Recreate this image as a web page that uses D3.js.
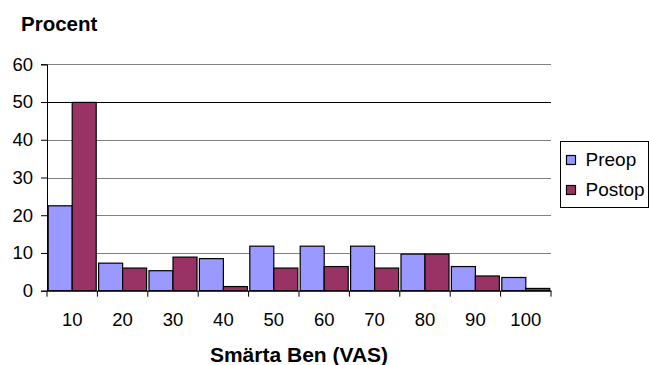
<!DOCTYPE html>
<html><head><meta charset="utf-8">
<script src="https://cdn.jsdelivr.net/npm/d3@7"></script>
<style>body{margin:0;background:#fff}svg{display:block}text{font-family:"Liberation Sans",Arial,sans-serif;fill:#000}</style>
</head><body>
<script>
const categories = ["10","20","30","40","50","60","70","80","90","100"];
const preop  = [22.5, 7.3, 5.3, 8.5, 11.8, 11.8, 11.8, 9.7, 6.4, 3.5];
const postop = [49.9, 6.0, 8.9, 1.1, 6.0, 6.4, 6.0, 9.7, 3.9, 0.6];
const seriesNames = ["Preop","Postop"];
const colors = ["#9999FF","#993366"];
const yTicks = [0,10,20,30,40,50,60];

const W=649,H=365;
const m={l:47,r:551,t:64.3,b:290.7};
const svg=d3.select("body").append("svg").attr("width",W).attr("height",H);

const x=d3.scaleBand().domain(categories).range([m.l,m.r]).paddingInner(0).paddingOuter(0);
const xs=d3.scaleBand().domain(seriesNames).range([0,x.bandwidth()]).paddingInner(0).paddingOuter(0.05);
const y=d3.scaleLinear().domain([0,60]).range([m.b,m.t]);

// gridlines
svg.append("g").selectAll("line").data(yTicks.filter(d=>d>0)).join("line")
  .attr("x1",m.l).attr("x2",m.r).attr("y1",d=>Math.round(y(d))+0.5).attr("y2",d=>Math.round(y(d))+0.5)
  .attr("stroke",d=>d===50?"#000":"#808080").attr("stroke-width",1);

// bars
const data=categories.map((c,i)=>({c,vals:[preop[i],postop[i]]}));
const g=svg.append("g").selectAll("g").data(data).join("g").attr("transform",d=>`translate(${x(d.c)},0)`);
g.selectAll("rect").data(d=>d.vals.map((v,j)=>({s:seriesNames[j],v,j}))).join("rect")
  .attr("x",d=>xs(d.s)).attr("width",xs.bandwidth())
  .attr("y",d=>y(d.v)).attr("height",d=>y(0)-y(d.v))
  .attr("fill",d=>colors[d.j]).attr("stroke","#000").attr("stroke-width",1.2);

// y axis
const ya=svg.append("g").attr("transform",`translate(${m.l},0)`)
  .call(d3.axisLeft(y).tickValues(yTicks).tickSize(6).tickPadding(8));
ya.select(".domain").attr("stroke","#000");
ya.selectAll(".tick line").attr("stroke","#000");
ya.selectAll("text").style("font-size","18.5px").attr("font-family","Liberation Sans, Arial, sans-serif");

// x axis
const xa=svg.append("g").attr("transform",`translate(0,${m.b})`)
  .call(d3.axisBottom(x).tickSize(0).tickPadding(22));
xa.select(".domain").attr("stroke","#000");
xa.selectAll("text").style("font-size","18.5px").attr("font-family","Liberation Sans, Arial, sans-serif");
// boundary ticks
const bounds=categories.map(c=>x(c)).concat([x(categories[categories.length-1])+x.bandwidth()]);
xa.append("g").selectAll("line").data(bounds).join("line")
  .attr("x1",d=>d).attr("x2",d=>d).attr("y1",0).attr("y2",6).attr("stroke","#000");

// titles
svg.append("text").attr("x",21).attr("y",30.5).attr("font-weight","bold").style("font-size","20.5px").text("Procent");
svg.append("text").attr("x",(m.l+m.r)/2).attr("y",362).attr("text-anchor","middle").attr("font-weight","bold").style("font-size","21px").text("Smärta Ben (VAS)");

// legend
const lg=svg.append("g");
lg.append("rect").attr("x",560.5).attr("y",141.5).attr("width",88).attr("height",66).attr("fill","#fff").attr("stroke","#000").attr("stroke-width",1);
seriesNames.forEach((s,i)=>{
  const yy=155.5+i*30;
  lg.append("rect").attr("x",566.5).attr("y",yy).attr("width",9).attr("height",9).attr("fill",colors[i]).attr("stroke","#000").attr("stroke-width",1.2);
  lg.append("text").attr("x",585.5).attr("y",yy+10.5).style("font-size","19px").text(s);
});
</script>
</body></html>
